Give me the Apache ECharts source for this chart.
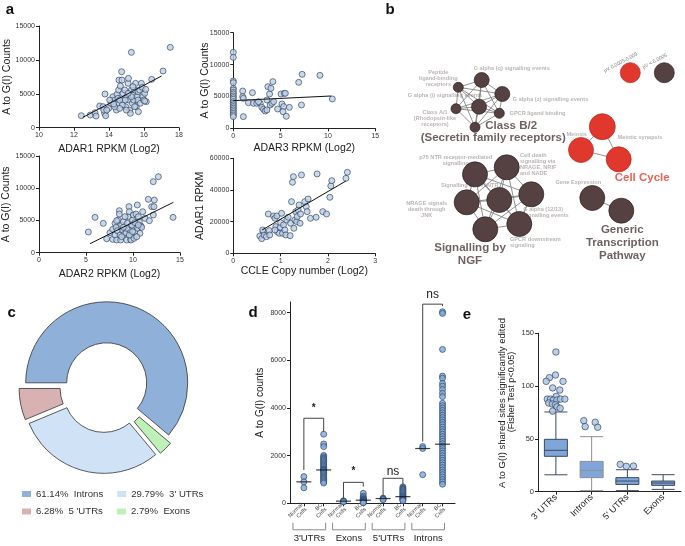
<!DOCTYPE html>
<html><head><meta charset="utf-8">
<script src="https://cdn.jsdelivr.net/npm/echarts@6/dist/echarts.min.js"></script>
<style>html,body{margin:0;padding:0;background:#fff}#chart{width:685px;height:546px}</style>
</head><body><div id="chart"></div><script>
const FONT = '"Liberation Sans", Arial, Helvetica, sans-serif';

// ---------- Panel a data ----------
const adar1Points = [[12.42,1770],[12.93,1870],[13.2,2210],[13.26,1720],[13.47,3200],[13.66,3100],[13.75,2120],[13.81,1770],[13.7,2600],[13.77,4970],[13.98,2850],[14.13,3600],[14.23,4570],[14.32,4080],[14.42,2600],[14.51,3600],[14.46,4920],[14.55,5560],[14.57,7030],[14.65,6150],[14.72,8260],[14.74,7030],[14.8,5070],[14.84,4080],[14.9,5560],[14.95,3100],[15.03,4570],[15.09,6540],[15.11,7280],[15.14,4080],[15.18,2600],[15.22,2120],[15.28,11110],[15.28,5560],[15.33,3600],[15.37,4820],[15.41,4080],[15.47,5560],[15.52,6540],[15.56,3100],[15.6,4570],[15.66,4080],[15.66,5310],[15.75,5560],[15.79,3600],[15.85,6540],[15.9,5950],[15.94,4570],[15.98,4080],[16.04,5070],[16.1,5650],[16.13,3840],[16.04,3940],[16.44,7130],[17.09,8360],[17.5,11850],[14.76,3350],[14.99,2600],[14.61,2850],[14.32,3100],[14.04,4080],[14.51,4330],[15.37,6050],[14.93,4080],[15.47,3100],[15.68,2360],[15.28,4570],[15.09,5070],[14.61,4080],[14.27,3500],[13.87,2600]];
const adar1Fit = [[12.5,1520],[17.0,7620]];

const adar3Points = [[0,11920],[0,11130],[0,7420],[0,7160],[0,6270],[0,6010],[0,5650],[0,5380],[0,5070],[0,4810],[0,4550],[0,4180],[0,3920],[0,3660],[0,3400],[0,3140],[0,2880],[0,2610],[0,2350],[0,2090],[0,1830],[0.99,5850],[0.99,4970],[1.06,4700],[1.06,1830],[1.6,4020],[2.02,5590],[2.13,3920],[2.48,3920],[2.84,3920],[3.01,3290],[3.19,2980],[3.37,2720],[3.55,2880],[3.55,4440],[3.65,6530],[3.83,5380],[3.9,3660],[3.97,6270],[4.08,3920],[4.18,7320],[4.26,4180],[4.68,3030],[5.04,5380],[5.14,3820],[5.32,3400],[5.39,5490],[5.5,5490],[5.25,2610],[5.6,1880],[5.92,3290],[6.91,7210],[7.27,8470],[7.2,3660],[9.15,8310],[10.46,4600],[2.66,4180]];
const adar3Fit = [[0,4340],[10.35,5070]];

const adar2Points = [[5.25,3210],[5.96,5480],[6.84,4550],[7.2,2170],[7.55,3100],[7.84,3620],[7.84,2070],[8.09,4550],[8.09,2740],[8.19,3930],[8.26,1970],[8.33,3410],[8.44,5070],[8.55,6520],[8.55,6000],[8.62,2740],[8.69,1970],[8.79,4290],[8.9,3520],[8.97,4810],[9.04,2840],[9.15,4030],[9.26,3100],[9.33,1970],[9.4,4550],[9.5,5590],[9.57,7140],[9.61,6360],[9.68,3520],[9.75,2070],[9.79,1970],[9.86,2740],[9.96,5070],[10.04,5850],[10.04,4030],[10.1,2220],[10.21,3260],[10.32,6000],[10.39,4660],[10.46,7400],[10.5,3780],[10.57,5590],[10.67,4810],[10.74,3000],[10.85,4140],[10.92,3930],[11.03,6360],[11.28,5330],[11.63,8280],[11.74,4970],[11.99,7140],[12.27,8170],[12.16,11020],[12.23,7140],[12.7,11790],[12.16,5850],[14.26,5480],[9.86,4290],[9.33,3780],[8.79,2480],[10.21,4660],[9.61,2740],[9.15,5590],[10.39,2480],[9.96,3260],[10.57,4290],[8.97,3930],[8.26,4970]];
const adar2Fit = [[5.43,1400],[14.29,7810]];

const cclePoints = [[0.56,10950],[0.6,9260],[0.63,13680],[0.65,11580],[0.62,14740],[0.7,10530],[0.76,14320],[0.77,11580],[0.74,24840],[0.85,23580],[0.88,22110],[0.9,16840],[0.92,23580],[0.93,13680],[0.97,12630],[0.99,16420],[1.0,19370],[1.02,25260],[1.04,12630],[1.06,17890],[1.09,14740],[1.11,11580],[1.13,21050],[1.16,22740],[1.2,11160],[1.21,18950],[1.23,32630],[1.25,44840],[1.27,48420],[1.28,15790],[1.3,21050],[1.32,26320],[1.34,20000],[1.35,23160],[1.37,27370],[1.39,30530],[1.41,18950],[1.42,24840],[1.44,49470],[1.51,32630],[1.54,29470],[1.56,26320],[1.58,34320],[1.63,22110],[1.75,22740],[1.77,50110],[1.89,26320],[1.97,24840],[2.04,35370],[2.06,42530],[2.08,45890],[2.38,47370],[2.41,51160],[0.88,14740]];
const ccleFit = [[0.61,14740],[2.38,45680]];

// ---------- Panel b data (network layout units) ----------
const netNodeX = [111.7, 88.3, 132.3, 109, 86, 129.3, 105, 232.3, 211, 248.7, 105, 136.7, 161.3, 129.3, 96.7, 149.3, 115.3, 222.3, 251.3, 260.3, 294.3];
const netNodeY = [80, 87.3, 94, 106.7, 108.7, 113.3, 127.3, 126.7, 150, 159.3, 174.3, 167.3, 194.3, 200, 202.3, 224, 229.3, 198, 210.7, 72.7, 72.7];
const netNodeWeight = [15,10,15,15,10,10,10, 26,25,25, 25,25,25,25,25,25,25, 25,25, 20,20];
const netNodePClass = ['low','low','low','low','low','low','low','mid','mid','mid','low','low','low','low','low','low','low','low','low','mid','low'];
const netLinks = [[0,1],[0,2],[0,3],[0,4],[0,5],[0,6],[1,2],[1,3],[1,4],[1,5],[1,6],[2,3],[2,4],[2,5],[2,6],[3,4],[3,5],[3,6],[4,5],[4,6],[5,6],
  [7,8],[7,9],[8,9],
  [10,11],[10,12],[10,13],[10,14],[10,15],[10,16],[11,12],[11,13],[11,14],[11,15],[11,16],[12,13],[12,14],[12,15],[12,16],[13,14],[13,15],[13,16],[14,15],[14,16],[15,16],
  [17,18]];
const netLabelText = ['G alpha (q) signalling events','Peptide\nligand-binding\nreceptors','G alpha (i) signalling events','G alpha (z) signalling events','Class A/1\n(Rhodopsin-like\nreceptors)','GPCR ligand binding','Meiosis','Meiotic synapsis','p75 NTR receptor-mediated\nsignalling','Cell death\nsignalling via\nNRAGE, NRIF\nand NADE','Signalling by p75NTR','Gene Expression','NRAGE signals\ndeath through\nJNK','G alpha (12/13)\nsignalling events','GPCR downstream\nsignaling',
  'Class B/2','(Secretin family receptors)','Signalling by\nNGF','Generic\nTranscription\nPathway','Cell Cycle','pV 0.0005-0.005','pV < 0.0005'];
const netLabelX = [141.7,68.3,75,180.5,65,167.5,206.7,270,85.7,150,99.7,208.3,56.7,153.3,140, 141.2,123.2,100,252.3,272.2,250.8,284.7];
const netLabelY = [68.7,78.5,95.7,99,118.3,113.3,134.3,137.7,160.2,164.3,185.3,182.3,209,212.5,242.8, 126,137.7,254.2,243,177.7,62.5,61.3];
const netLabelKind = ['term','term','term','term','term','term','term','term','term','termL','term','term','term','termL','termL','cluster','cluster','cluster','cluster','cycle','legend','legend'];

// ---------- Panel c data ----------
const regionNames = ['Introns','Exons',"3' UTRs","5 'UTRs"];
const regionPct = [61.14, 2.79, 29.79, 6.28];

// ---------- Panel d data ----------
const dGroupNames = ["3'UTRs","Exons","5'UTRs","Introns"];
const dCellLabels = ['Normal\nCells','BC\nCells'];
const d3utrNormal = [1120, 900, 650];
const d3utrBC = [2900,2490,2380,2010,1950,1900,1850,1800,1750,1700,1650,1600,1550,1500,1450,1420,1400,1380,1350,1300,1250,1200,1150,1100,1050,1000,950,900,850];
const dExonNormal = [110, 80, 60];
const dExonBC = [420,300,250,200,170,150,130,120,100,80,60,40,20];
const d5utrNormal = [220, 180, 150];
const d5utrBC = [690,640,600,560,520,480,440,400,360,320,290,260,230,200,170,140,110];
const dIntronNormal = [2380, 2300, 1200];
const dIntronBC = [8040,7970,6460,5340,5250,5030,4920,4780,4620,4480,4200,4100,4000,3900,3800,3700,3600,3500,3400,3300,3200,3100,3000,2900,2800,2700,2600,2500,2400,2300,2200,2100,2000,1900,1800,1700,1600,1500,1400,1300,1200,1100,1000,900,800];
const dMedians = [900,1400,90,130,200,280,2300,2480];
const dYTicks = [0,2000,4000,6000,8000];
const dSigText = ['*','*','ns','ns'];
const dSigTop = [3570, 880, 1050, 8360];
const dSigLeftLow = [1400, 170, 310, 2590];
const dSigRightLow = [3000, 700, 700, 8280];
const dSigTextY = [3990, 1330, 1330, 8740];

// ---------- Panel e data ----------
const eCategories = ["3' UTRs","Introns","5' UTRs","Exons"];
const eBoxes = [[16,33.5,39.2,49.6,75.5],[1,13.3,20.2,28.7,52.1],[1,6.9,10.1,13.3,20.8],[2.2,6,8.2,10.1,16.1]];
const eOutliers = [[0,132.3],[-0.01,110.5],[-0.18,108],[-0.27,104.5],[0.2,104.5],[-0.09,98.3],[0.11,96.3],[0.01,90.3],[-0.24,87.7],[-0.15,87.7],[-0.07,86.8],[0.03,86.8],[0.13,87.7],[0.25,87.7],[-0.2,84],[-0.1,83],[-0.01,82.5],[0.03,80.3],[0.12,79],[-0.09,76.3],
  [0.78,67.3],[1.1,65.7],[0.82,61.6],[1.17,61],
  [1.8,25.9],[1.97,24],[2.17,24.3]];

// ---------- helpers ----------
const plain = (v)=>String(v);
function ax(o){
  return Object.assign({
    type:'value',
    axisLine:{show:true,onZero:false,lineStyle:{color:'#222',width:1}},
    axisTick:{show:true,inside:false,length:3,lineStyle:{color:'#222',width:1}},
    axisLabel:{fontSize:7,color:'#333',fontFamily:FONT,margin:4,formatter:plain},
    splitLine:{show:false},
    nameLocation:'middle',
    nameMoveOverlap:false,
    nameTextStyle:{fontSize:10.5,color:'#222',fontFamily:FONT}
  }, o);
}
const hidden = (o)=>Object.assign({type:'value',show:false,splitLine:{show:false}},o);
const dotStyle = {color:'#bcd0e8',borderColor:'#2c3a50',borderWidth:0.8};
function scatter(i,data){return {type:'scatter',xAxisIndex:i,yAxisIndex:i,data:data,symbolSize:6,itemStyle:dotStyle,silent:true,z:3};}
function fit(i,data){return {type:'line',xAxisIndex:i,yAxisIndex:i,data:data,symbol:'none',lineStyle:{color:'#111',width:1},silent:true,z:4};}

// network nodes & labels
const netNodes = netNodeX.map((x,i)=>({value:[x,netNodeY[i]],symbolSize:netNodeWeight[i],
  itemStyle:{color: netNodePClass[i]==='mid' ? '#e0382c' : '#554141', borderColor: netNodePClass[i]==='mid' ? '#b82a20':'#2b2020', borderWidth:0.7}}));
const netEdges = netLinks.map(l=>({source:l[0],target:l[1]}));
const kindStyle = {
  term:{fontSize:5.6,fontWeight:'bold',color:'#aaa2a2',lineHeight:6,align:'center'},
  termL:{fontSize:5.6,fontWeight:'bold',color:'#aaa2a2',lineHeight:6,align:'left'},
  cluster:{fontSize:11.5,fontWeight:'bold',color:'#4b3939',lineHeight:12.7,align:'center'},
  cycle:{fontSize:11.5,fontWeight:'bold',color:'#e4392b',lineHeight:13,align:'center'},
  legend:{fontSize:5,fontWeight:'normal',color:'#555',lineHeight:6,align:'center',rotate:28}
};
function netLabelData(filter){
  return netLabelText.map((t,i)=>({t,i})).filter(o=>filter(netLabelKind[o.i])).map(o=>({
    value:[netLabelX[o.i],netLabelY[o.i]],
    label:Object.assign({show:true,position:'inside',verticalAlign:'middle',fontFamily:FONT,formatter:o.t}, kindStyle[netLabelKind[o.i]])
  }));
}

// panel d points
const dColumns = [d3utrNormal,d3utrBC,dExonNormal,dExonBC,d5utrNormal,d5utrBC,dIntronNormal,dIntronBC];
const dPoints = [];
dColumns.forEach((col,i)=>col.forEach(v=>dPoints.push([i+1,v])));
const dPositions = dColumns.map((c,i)=>i+1);

const chart = echarts.init(document.getElementById('chart'), null, {renderer:'canvas'});
const option = {
  animation:false,
  backgroundColor:'#fff',
  textStyle:{fontFamily:FONT},
  grid:[
    {left:39,top:26,width:140,height:101.7,outerBoundsMode:'none'},
    {left:233.3,top:32.7,width:142,height:95.6,outerBoundsMode:'none'},
    {left:39,top:156,width:141,height:96.7,outerBoundsMode:'none'},
    {left:233.3,top:158.3,width:142,height:95,outerBoundsMode:'none'},
    {left:370,top:0,width:315,height:300,outerBoundsMode:'none'},
    {left:290,top:302,width:165,height:201.3,outerBoundsMode:'none'},
    {left:538,top:333.3,width:143,height:158.4,outerBoundsMode:'none'}
  ],
  xAxis:[
    ax({gridIndex:0,min:10,max:18,interval:2,name:'ADAR1 RPKM (Log2)',nameGap:15.6}),
    ax({gridIndex:1,min:0,max:15,interval:5,name:'ADAR3 RPKM (Log2)',nameGap:14}),
    ax({gridIndex:2,min:0,max:15,interval:5,name:'ADAR2 RPKM (Log2)',nameGap:16.3}),
    ax({gridIndex:3,min:0,max:3,interval:1,name:'CCLE Copy number (Log2)',nameGap:12.4}),
    hidden({gridIndex:4,min:0,max:315}),
    ax({gridIndex:5,min:0.3,max:8.63,
      axisTick:{show:true,length:3,customValues:dPositions,lineStyle:{color:'#222',width:1}},
      axisLabel:{customValues:dPositions,rotate:45,fontSize:5.5,lineHeight:6,color:'#444',fontFamily:FONT,margin:3,
        formatter:(v)=>dCellLabels[(Math.round(v)-1)%2]}}),
    ax({gridIndex:6,type:'category',data:eCategories,boundaryGap:true,
      axisTick:{show:true,alignWithLabel:true,length:3,lineStyle:{color:'#222',width:1}},
      axisLabel:{rotate:45,fontSize:9,color:'#222',fontFamily:FONT,margin:4,interval:0}}),
    hidden({gridIndex:6,min:-0.5,max:3.5})
  ],
  yAxis:[
    ax({gridIndex:0,min:0,max:15000,interval:5000,name:'A to G(I) Counts',nameGap:26.3}),
    ax({gridIndex:1,min:0,max:15000,interval:5000,name:'A to G(I) Counts',nameGap:22.3}),
    ax({gridIndex:2,min:0,max:15000,interval:5000,name:'A to G(I) Counts',nameGap:27}),
    ax({gridIndex:3,min:0,max:60000,interval:20000,name:'ADAR1 RPKM',nameGap:27.8}),
    hidden({gridIndex:4,min:0,max:300,inverse:true}),
    ax({gridIndex:5,min:0,max:8450,name:'A to G(I) counts',nameGap:24.5,
      nameTextStyle:{fontSize:10,color:'#222',fontFamily:FONT},
      axisTick:{show:true,length:3,customValues:dYTicks,lineStyle:{color:'#222',width:1}},
      axisLabel:{customValues:dYTicks,fontSize:7,color:'#333',fontFamily:FONT,margin:4,formatter:plain}}),
    ax({gridIndex:6,min:0,max:150,interval:50,axisLabel:{fontSize:7.5,color:'#333',fontFamily:FONT,margin:4,formatter:plain}})
  ],
  legend:[
    {data:['Introns',"3' UTRs"],left:17,top:484,orient:'horizontal',icon:'rect',itemWidth:9,itemHeight:6,itemGap:14,selectedMode:false,
     itemStyle:{borderWidth:0},textStyle:{fontSize:9.6,color:'#333',fontFamily:FONT,width:70},
     formatter:(n)=>regionPct[regionNames.indexOf(n)].toFixed(2)+'%  '+n},
    {data:["5 'UTRs",'Exons'],left:17,top:501.5,orient:'horizontal',icon:'rect',itemWidth:9,itemHeight:6,itemGap:14,selectedMode:false,
     itemStyle:{borderWidth:0},textStyle:{fontSize:9.6,color:'#333',fontFamily:FONT,width:70},
     formatter:(n)=>regionPct[regionNames.indexOf(n)].toFixed(2)+'%  '+n}
  ],
  graphic:[
    {type:'text',x:10,y:10,style:{text:'a',font:'bold 15px '+FONT,fill:'#111',align:'center',verticalAlign:'middle'}},
    {type:'text',x:390,y:10,style:{text:'b',font:'bold 15px '+FONT,fill:'#111',align:'center',verticalAlign:'middle'}},
    {type:'text',x:11.7,y:313,style:{text:'c',font:'bold 15px '+FONT,fill:'#111',align:'center',verticalAlign:'middle'}},
    {type:'text',x:253,y:313,style:{text:'d',font:'bold 15px '+FONT,fill:'#111',align:'center',verticalAlign:'middle'}},
    {type:'text',x:467,y:315,style:{text:'e',font:'bold 15px '+FONT,fill:'#111',align:'center',verticalAlign:'middle'}},
    {type:'text',x:502.7,y:403,rotation:Math.PI/2,style:{text:'A to G(I) shared sites significantly edited',font:'9.5px '+FONT,fill:'#222',align:'center',verticalAlign:'middle'}},
    {type:'text',x:512,y:392,rotation:Math.PI/2,style:{text:'(Fisher Test p<0.05)',font:'9px '+FONT,fill:'#222',align:'center',verticalAlign:'middle'}}
  ],
  series:[
    scatter(0,adar1Points), fit(0,adar1Fit),
    scatter(1,adar3Points), fit(1,adar3Fit),
    scatter(2,adar2Points), fit(2,adar2Fit),
    scatter(3,cclePoints), fit(3,ccleFit),
    // network: term labels (behind)
    {type:'scatter',xAxisIndex:4,yAxisIndex:4,symbolSize:0,silent:true,z:1,data:netLabelData(k=>k==='term'||k==='termL')},
    {type:'graph',coordinateSystem:'cartesian2d',xAxisIndex:4,yAxisIndex:4,silent:true,z:2,
      data:netNodes,links:netEdges,lineStyle:{color:'#777',width:0.8,opacity:1},label:{show:false},emphasis:{disabled:true}},
    {type:'scatter',xAxisIndex:4,yAxisIndex:4,symbolSize:0,silent:true,z:5,data:netLabelData(k=>k!=='term'&&k!=='termL')},
    // panel c
    {type:'pie',center:[105,387.5],radius:[40,81],startAngle:180,clockwise:true,selectedMode:'multiple',selectedOffset:5,
      label:{show:false},labelLine:{show:false},emphasis:{disabled:true},silent:true,
      itemStyle:{borderColor:'#333',borderWidth:0.8},
      data:regionNames.map((n,i)=>({name:n,value:regionPct[i],selected:true,
        itemStyle:{color:['#8fb0d8','#bff0b8','#d0e2f6','#d8b2b2'][i]}}))},
    // panel d
    {type:'scatter',xAxisIndex:5,yAxisIndex:5,data:dPoints,symbolSize:6,silent:true,z:3,
      itemStyle:{color:'#7fa8da',borderColor:'#213c5e',borderWidth:0.8}},
    {type:'scatter',xAxisIndex:5,yAxisIndex:5,data:dMedians.map((v,i)=>[i+1,v]),symbol:'rect',symbolSize:[15,1.2],silent:true,z:4,
      itemStyle:{color:'#111'}},
    {type:'custom',xAxisIndex:5,yAxisIndex:5,silent:true,z:4,
      data:dSigTop.map((t,i)=>[2*i+1,2*i+2,t,dSigLeftLow[i],dSigRightLow[i],dSigTextY[i]]),
      renderItem:(params,api)=>{
        const a=api.coord([api.value(0),api.value(3)]), b=api.coord([api.value(0),api.value(2)]),
              c=api.coord([api.value(1),api.value(2)]), d=api.coord([api.value(1),api.value(4)]),
              t=api.coord([(api.value(0)+api.value(1))/2,api.value(5)]);
        const txt=dSigText[params.dataIndex];
        return {type:'group',children:[
          {type:'polyline',shape:{points:[a,b,c,d]},style:{stroke:'#444',lineWidth:1,fill:null}},
          {type:'text',x:t[0],y:t[1],style:{text:txt,align:'center',verticalAlign:'middle',
            font:(txt==='ns'?'12px ':'bold 10px ')+FONT,fill:'#222'}}
        ]};
      }},
    {type:'custom',xAxisIndex:5,yAxisIndex:5,silent:true,z:4,
      data:dGroupNames.map((n,i)=>[2*i+1-0.55,2*i+2+0.1]),
      renderItem:(params,api)=>{
        const p1=api.coord([api.value(0),0]), p2=api.coord([api.value(1),0]);
        const y0=p1[1];
        return {type:'group',children:[
          {type:'polyline',shape:{points:[[p1[0],y0+19.5],[p1[0],y0+26.5],[p2[0],y0+26.5],[p2[0],y0+19.5]]},style:{stroke:'#8a8a8a',lineWidth:1,fill:null}},
          {type:'text',x:(p1[0]+p2[0])/2,y:y0+35,style:{text:dGroupNames[params.dataIndex],align:'center',verticalAlign:'middle',font:'9.5px '+FONT,fill:'#222'}}
        ]};
      }},
    // panel e
    {type:'boxplot',xAxisIndex:6,yAxisIndex:6,silent:true,boxWidth:[22,23],z:3,
      itemStyle:{color:'#7ea6d9',borderColor:'#3b4a5e',borderWidth:1},
      data:eBoxes.map((b,i)=>({value:b,itemStyle:i===1?{color:'#7ea6d9',borderColor:'#8f8f8f',borderWidth:1}:{color:'#7ea6d9',borderColor:'#3b4a5e',borderWidth:1}}))},
    {type:'scatter',xAxisIndex:7,yAxisIndex:6,data:eOutliers,symbolSize:6.5,silent:true,z:4,
      itemStyle:{color:'#a9c3e4',borderColor:'#2a3a52',borderWidth:0.8}}
  ]
};
chart.setOption(option);
</script></body></html>
